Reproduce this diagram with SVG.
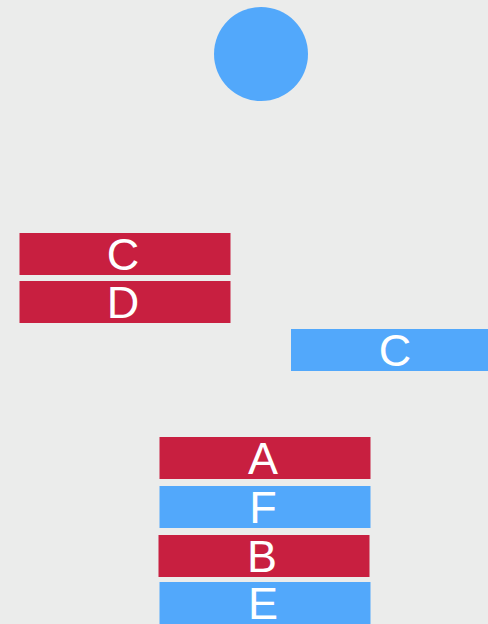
<svg xmlns="http://www.w3.org/2000/svg" width="488" height="624" viewBox="0 0 488 624">
<style>
.red{fill:#C81F40}
.blue{fill:#52A8FB}
.t{font-family:"Liberation Sans",Arial,sans-serif;font-size:45px;fill:#FFFFFF;text-anchor:middle}
</style>
<rect width="488" height="624" fill="#EBECEB"/>
<g id="connectors"/>
<g id="circle"><circle cx="261" cy="54" r="47" class="blue"/></g>
<g id="nodeC1"><rect x="19.5" y="233" width="211" height="42" class="red"/><text class="t" x="123" y="270">C</text></g>
<g id="nodeD"><rect x="19.5" y="281" width="211" height="42" class="red"/><text class="t" x="123" y="318">D</text></g>
<g id="nodeC2"><rect x="291" y="329" width="197" height="42" class="blue"/><text class="t" x="395" y="366">C</text></g>
<g id="nodeA"><rect x="159.5" y="437" width="211" height="42" class="red"/><text class="t" x="263" y="474">A</text></g>
<g id="nodeF"><rect x="159.5" y="486" width="211" height="42" class="blue"/><text class="t" x="263" y="523">F</text></g>
<g id="nodeB"><rect x="158.5" y="535" width="211" height="42" class="red"/><text class="t" x="262" y="572">B</text></g>
<g id="nodeE"><rect x="159.5" y="582" width="211" height="42" class="blue"/><text class="t" x="263" y="619">E</text></g>
</svg>
